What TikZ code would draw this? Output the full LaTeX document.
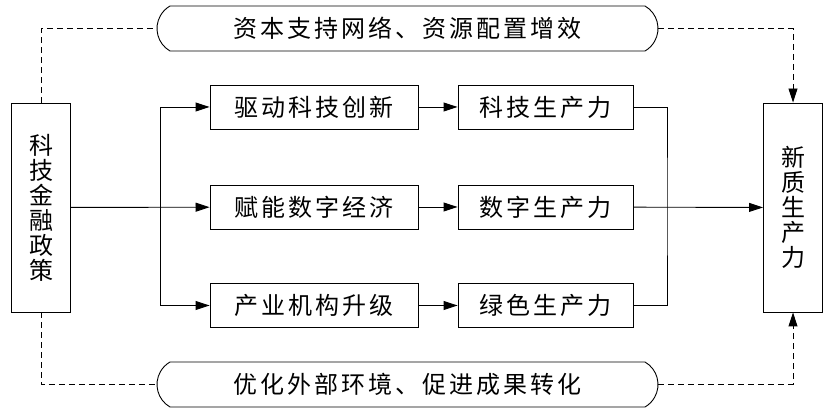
\documentclass[tikz,border=0pt]{standalone}
\usepackage{fontspec}
\newfontfamily\cjk[LetterSpace=12.5]{Noto Sans CJK SC}
\newfontfamily\cjkv{Noto Sans CJK SC}
\usetikzlibrary{arrows.meta,shapes.misc}

\begin{document}
\begin{tikzpicture}[x=1pt,y=-1pt,>={Triangle[length=14pt,width=9pt]},
  box/.style={draw,line width=0.9pt,inner sep=0pt,minimum height=44pt,
    font=\cjk\fontsize{24}{25}\selectfont},
  tall/.style={box,minimum width=59pt,minimum height=209pt,align=center,
    font=\cjkv\fontsize{24}{25}\selectfont},
  pill/.style={box,rounded rectangle,rounded rectangle arc length=120,
    minimum width=501pt,minimum height=45pt},
  link/.style={line width=0.9pt},
  hint/.style={line width=0.9pt,dash pattern=on 6pt off 4pt}]
  \useasboundingbox (0,0) rectangle (828,411);
  \node[tall] (policy) at (41,207.5) {科\\技\\金\\融\\政\\策};
  \node[tall] (newq) at (793,207.5) {新\\质\\生\\产\\力};
  \node[box,minimum width=208pt] (tech) at (314,107) {驱动科技创新};
  \node[box,minimum width=208pt] (digi) at (314,207) {赋能数字经济};
  \node[box,minimum width=208pt] (indu) at (314,305.5) {产业机构升级};
  \node[box,minimum width=175pt] (ptech) at (545.5,107) {科技生产力};
  \node[box,minimum width=175pt] (pdigi) at (545.5,207) {数字生产力};
  \node[box,minimum width=175pt] (pgreen) at (545.5,305.5) {绿色生产力};
  \node[pill] (capital) at (407.5,28.5) {资本支持网络、资源配置增效};
  \node[pill] (environ) at (407.5,384.5) {优化外部环境、促进成果转化};
  \coordinate (split) at (160,207);
  \coordinate (merge) at (667,207);
  \draw[link,->] (policy) -- (digi);
  \draw[link,->] (split) |- (tech);
  \draw[link,->] (split) |- (indu);
  \draw[link,->] (tech) -- (ptech);
  \draw[link,->] (digi) -- (pdigi);
  \draw[link,->] (indu) -- (pgreen);
  \draw[link] (ptech) -| (merge) |- (pgreen);
  \draw[link,->] (pdigi) -- (newq);
  \draw[hint] (policy.north) |- (capital.west);
  \draw[hint,->] (capital.east) -| (newq.north);
  \draw[hint] (policy.south) |- (environ.west);
  \draw[hint,->] (environ.east) -| (newq.south);
\end{tikzpicture}
\end{document}
